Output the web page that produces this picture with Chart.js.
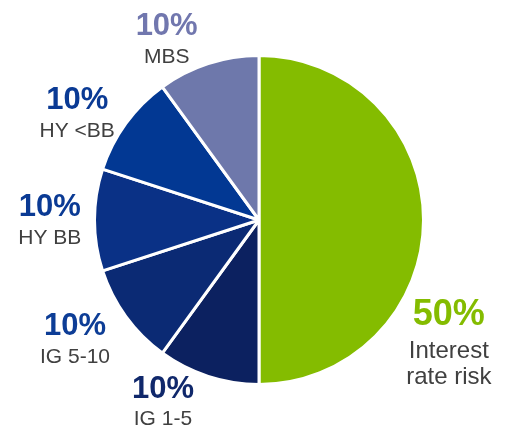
<!DOCTYPE html>
<html>
<head>
<meta charset="utf-8">
<script src="https://cdn.jsdelivr.net/npm/chart.js@4/dist/chart.umd.min.js"></script>
<style>
  html, body { margin: 0; padding: 0; background: #fff; }
  canvas { display: block; }
</style>
</head>
<body>
<canvas id="chart" width="507" height="430"></canvas>
<script>
// Data
const categories = ["Interest rate risk", "IG 1-5", "IG 5-10", "HY BB", "HY <BB", "MBS"];
const shares = [50, 10, 10, 10, 10, 10];
const nameLines = [["Interest", "rate risk"], ["IG 1-5"], ["IG 5-10"], ["HY BB"], ["HY <BB"], ["MBS"]];

// Styles
const sliceColors = ["#84bc00", "#0c2160", "#0b2a74", "#0a3186", "#023893", "#6e78ab"];
const pctColors = ["#84bc00", "#10286b", "#0d3d96", "#0a3a94", "#0a3a94", "#7177ae"];
const labelShift = [26.7, 11.6, 6, 3.3, -2.7, -7.5]; // degrees off the slice middle
const labelGap = [48, 30, 48, 45, 53, 50];           // px outside the pie

// Draw percent + name next to each slice
const outsideLabels = {
  id: "outsideLabels",
  afterDatasetsDraw(chart) {
    const ctx = chart.ctx;
    const arcs = chart.getDatasetMeta(0).data;
    ctx.save();
    ctx.textAlign = "center";
    ctx.textBaseline = "middle";
    arcs.forEach((arc, i) => {
      const p = arc.getProps(["x", "y", "startAngle", "endAngle", "outerRadius"], true);
      const mid = (p.startAngle + p.endAngle) / 2 + labelShift[i] * Math.PI / 180;
      const r = p.outerRadius + labelGap[i];
      const x = p.x + Math.cos(mid) * r;
      const y = p.y + Math.sin(mid) * r;
      const big = i === 0;
      ctx.fillStyle = pctColors[i];
      ctx.font = "bold " + (big ? 36 : 31) + "px 'Liberation Sans', Arial, sans-serif";
      ctx.fillText(shares[i] + "%", x, y);
      ctx.fillStyle = "#404040";
      ctx.font = (big ? 24 : 21) + "px 'Liberation Sans', Arial, sans-serif";
      nameLines[i].forEach((line, j) => {
        const dy = big ? 36 + j * 26 : 30.5;
        ctx.fillText(line, x, y + dy);
      });
    });
    ctx.restore();
  }
};

new Chart(document.getElementById("chart"), {
  type: "pie",
  data: {
    labels: categories,
    datasets: [{
      data: shares,
      backgroundColor: sliceColors,
      borderColor: "#ffffff",
      borderWidth: 3,
      hoverOffset: 0
    }]
  },
  options: {
    responsive: false,
    animation: false,
    layout: { padding: { top: 54, bottom: 44, left: 93, right: 82 } },
    plugins: {
      legend: { display: false },
      tooltip: { enabled: false }
    }
  },
  plugins: [outsideLabels]
});
</script>
</body>
</html>
